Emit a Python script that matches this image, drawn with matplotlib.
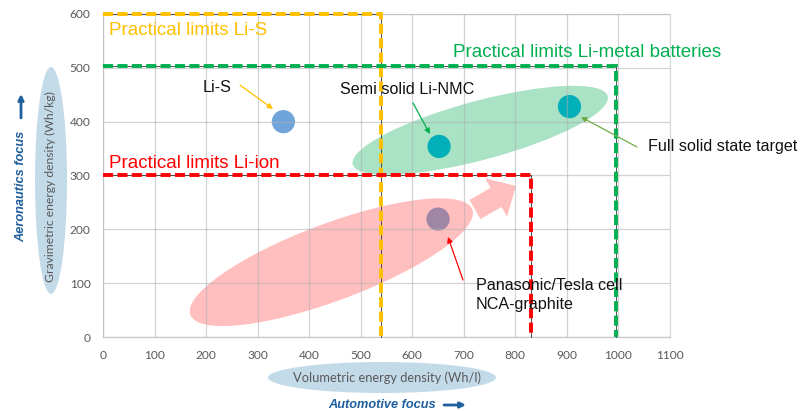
import matplotlib
matplotlib.use('Agg')
import matplotlib.pyplot as plt
from matplotlib.patches import Ellipse, FancyArrow
from matplotlib.transforms import ScaledTranslation

# ---------------- data ----------------
x_ticks = [0, 100, 200, 300, 400, 500, 600, 700, 800, 900, 1000, 1100]
y_ticks = [0, 100, 200, 300, 400, 500, 600]

point_labels = ['Li-S', 'Semi solid Li-NMC', 'Full solid state target',
                'Panasonic/Tesla cell\nNCA-graphite']
point_x = [350, 652, 905, 650]
point_y = [400, 354, 428, 219]
point_colors = ['#70a5dc', '#00afb8', '#00afb8', '#a086a6']

limit_labels = ['Practical limits Li-S', 'Practical limits Li-metal batteries',
                'Practical limits Li-ion']
limit_x = [540, 995, 830]
limit_y = [600, 503, 300]
limit_colors = ['#ffc000', '#00b050', '#ff0000']

# ---------------- figure ----------------
W, H = 800, 411
fig = plt.figure(figsize=(W / 100, H / 100), dpi=100)
ax = fig.add_axes([103 / W, 1 - 337 / H, 567 / W, 323 / H])
ax.set_axisbelow(False)

tick_font = dict(family=['Lato', 'DejaVu Sans'], size=8.6, color='#595959')
ax.set_xticks(x_ticks)
ax.set_yticks(y_ticks)
ax.set_xticklabels([str(v) for v in x_ticks], **tick_font)
ax.set_yticklabels([str(v) for v in y_ticks], **tick_font)
ax.tick_params(length=0, pad=9)
ax.grid(True, color='#b0b0b0', alpha=0.55, lw=0.9)
for s in ax.spines.values():
    s.set_color('#d9d9d9')
    s.set_linewidth(0.9)
ax.spines['bottom'].set_color('#c8c8c8')


def px_ellipse(cx, cy, w_px, h_px, angle, color):
    tr = fig.dpi_scale_trans + ScaledTranslation(cx, cy, ax.transData)
    e = Ellipse((0, 0), w_px / 100, h_px / 100, angle=angle, transform=tr,
                facecolor=color, edgecolor='none', zorder=1)
    ax.add_patch(e)


# group ellipses
px_ellipse(732, 384, 264, 59, 15, '#a9e2c5')
px_ellipse(443, 139, 301, 77, 20.5, '#ffbfbf')

# pink block arrow
arr = FancyArrow(4.75, 2.015, 0.41, 0.235, width=0.22, head_width=0.44,
                 head_length=0.23, length_includes_head=True,
                 transform=fig.dpi_scale_trans, facecolor='#ffbfbf',
                 edgecolor='none', zorder=1.1)
ax.add_patch(arr)

# markers
ax.scatter(point_x, point_y, s=280, c=point_colors, linewidths=0, zorder=2)

# limit lines
for lx, ly, c in zip(limit_x, limit_y, limit_colors):
    ax.plot([0, lx, lx], [ly, ly, 0], color='#333333', lw=0.6, zorder=3,
            clip_on=False)
    ax.plot([0, lx, lx], [ly, ly, 0], color=c, lw=2.8, ls=(0, (2.6, 1.1)),
            zorder=3.1, clip_on=False, dash_capstyle='butt',
            solid_joinstyle='miter', dash_joinstyle='miter')

big_font = dict(family=['Liberation Sans', 'DejaVu Sans'], size=13.5)
ax.text(11.6, 568.5, limit_labels[0], color=limit_colors[0], va='center',
        ha='left', zorder=4, **big_font)
ax.text(679, 529.4, limit_labels[1], color=limit_colors[1], va='center',
        ha='left', zorder=4, **big_font)
ax.text(11.6, 321.4, limit_labels[2], color=limit_colors[2], va='center',
        ha='left', zorder=4, **big_font)

ann_font = dict(family=['Liberation Sans', 'DejaVu Sans'], size=11.6,
                color='#111111')


def arrow(p_from, p_to, color):
    ax.annotate('', xy=p_to, xytext=p_from, zorder=4,
                arrowprops=dict(arrowstyle='-|>', color=color, lw=0.9,
                                mutation_scale=8, shrinkA=0, shrinkB=0),
                annotation_clip=False)


ax.text(194, 464, point_labels[0], ha='left', va='center', zorder=4, **ann_font)
arrow((265.8, 468), (329.8, 423.6), '#ffc000')

ax.text(459.7, 460, point_labels[1], ha='left', va='center', zorder=4, **ann_font)
arrow((601.4, 434.7), (634.3, 377), '#00b050')

ax.text(1057.8, 353, point_labels[2], ha='left', va='center', zorder=4,
        clip_on=False, **ann_font)
arrow((1035.8, 353), (927.3, 408.7), '#70ad47')

ax.text(723, 78.5, point_labels[3], ha='left', va='center', zorder=4,
        linespacing=1.3, **ann_font)
arrow((698.4, 105.9), (669.3, 185.8), '#ff0000')

ax.set_xlim(0, 1100)
ax.set_ylim(0, 600)

# ---------------- axis titles ----------------
lab_blue = '#c3dae9'
fig.add_artist(Ellipse((0.51, (H - 180.5) / 100), 0.32, 2.27,
                       transform=fig.dpi_scale_trans, facecolor=lab_blue,
                       edgecolor='none', zorder=0.5))
fig.add_artist(Ellipse((3.82, (H - 377.5) / 100), 2.28, 0.31,
                       transform=fig.dpi_scale_trans, facecolor=lab_blue,
                       edgecolor='none', zorder=0.5))

fig.text(50 / W, 1 - 187 / H, 'Gravimetric energy density (Wh/kg)',
         rotation=90, ha='center', va='center', zorder=2,
         family=['Lato', 'DejaVu Sans'], size=8.7, color='#595959')
fig.text(387 / W, 1 - 377.7 / H, 'Volumetric energy density (Wh/l)',
         ha='center', va='center', zorder=2,
         family=['Lato', 'DejaVu Sans'], size=9.3, color='#595959')

focus_color = '#1f5f9e'
focus_font = dict(family=['Liberation Sans', 'DejaVu Sans'], size=9.2,
                  weight='bold', style='italic', color=focus_color)
fig.text(21 / W, 1 - 186 / H, 'Aeronautics focus', rotation=90, ha='center',
         va='center', **focus_font)
fig.text(382 / W, 1 - 405 / H, 'Automotive focus', ha='center', va='center',
         **focus_font)
ax.annotate('', xy=(21, H - 94), xytext=(21, H - 118), xycoords='figure pixels',
            textcoords='figure pixels', annotation_clip=False,
            arrowprops=dict(arrowstyle='-|>', color=focus_color, lw=2,
                            mutation_scale=8, shrinkA=0, shrinkB=0))
ax.annotate('', xy=(466, H - 405), xytext=(444, H - 405), xycoords='figure pixels',
            textcoords='figure pixels', annotation_clip=False,
            arrowprops=dict(arrowstyle='-|>', color=focus_color, lw=2,
                            mutation_scale=8, shrinkA=0, shrinkB=0))

fig.savefig('out.png', dpi=100)
